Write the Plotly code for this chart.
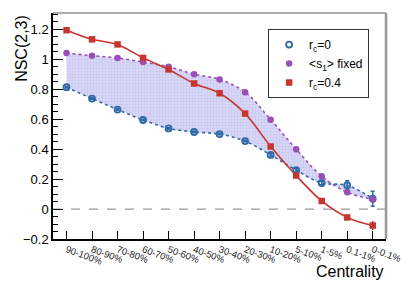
import plotly.graph_objects as go

categories = ["90-100%", "80-90%", "70-80%", "60-70%", "50-60%", "40-50%", "30-40%",
              "20-30%", "10-20%", "5-10%", "1-5%", "0.1-1%", "0-0.1%"]
rc0 = [0.814, 0.738, 0.665, 0.595, 0.539, 0.515, 0.501, 0.454, 0.362, 0.260, 0.174, 0.159, 0.069]
rc0_err = [0.005, 0.005, 0.005, 0.005, 0.005, 0.005, 0.005, 0.005, 0.008, 0.01, 0.012, 0.03, 0.05]
s1_fixed = [1.042, 1.025, 1.009, 0.982, 0.951, 0.901, 0.866, 0.781, 0.597, 0.400, 0.219, 0.112, 0.065]
rc04 = [1.195, 1.134, 1.100, 1.010, 0.933, 0.839, 0.774, 0.638, 0.418, 0.224, 0.054, -0.056, -0.110]
rc04_err = [0.01, 0.01, 0.01, 0.01, 0.01, 0.01, 0.01, 0.01, 0.01, 0.01, 0.01, 0.015, 0.03]
y_ticks = [-0.2, 0, 0.2, 0.4, 0.6, 0.8, 1, 1.2]
y_ticktext = ["\u22120.2", "0", "0.2", "0.4", "0.6", "0.8", "1", "1.2"]

idx = list(range(len(categories)))
blue = "#2f6aa6"
purple = "#9a4fb6"
red = "#c8352e"
font = "Liberation Sans, Arial, sans-serif"

fig = go.Figure()
fig.add_trace(go.Scatter(x=idx, y=s1_fixed, mode="lines", line=dict(color=purple, width=1.6, dash="dot", shape="spline"),
                         showlegend=False, hoverinfo="skip"))
fig.add_trace(go.Scatter(x=idx, y=rc0, mode="lines", line=dict(color=blue, width=1.6, dash="dot", shape="spline"),
                         fill="tonexty", fillcolor="rgba(190,190,238,0.6)",
                         fillpattern=dict(shape="+", fgcolor="rgba(170,170,232,0.9)", bgcolor="rgba(212,212,246,0.9)", size=3, solidity=0.3),
                         showlegend=False, hoverinfo="skip"))
fig.add_trace(go.Scatter(x=idx, y=rc04, mode="lines", line=dict(color=red, width=1.6, shape="spline"),
                         showlegend=False, hoverinfo="skip"))
fig.add_trace(go.Scatter(x=idx, y=rc0, mode="markers", name="r<sub>c</sub>=0",
                         marker=dict(symbol="circle-open", size=6, color=blue, line=dict(width=1.8, color=blue)),
                         error_y=dict(type="data", array=rc0_err, color=blue, thickness=1.5, width=2)))
fig.add_trace(go.Scatter(x=idx, y=s1_fixed, mode="markers", name="&lt;s<sub>1</sub>&gt; fixed",
                         marker=dict(symbol="circle", size=6.5, color=purple)))
fig.add_trace(go.Scatter(x=idx, y=rc04, mode="markers", name="r<sub>c</sub>=0.4",
                         marker=dict(symbol="square", size=6.5, color=red),
                         error_y=dict(type="data", array=rc04_err, color=red, thickness=1.5, width=0)))

fig.add_shape(type="line", xref="paper", yref="y", x0=0, x1=1, y0=0, y1=0,
              line=dict(color="#999999", width=1.3, dash="dash"), layer="below")
fig.add_shape(type="line", xref="paper", yref="paper", x0=0, x1=1, y0=1, y1=1,
              line=dict(color="#555555", width=1))
fig.add_shape(type="line", xref="paper", yref="paper", x0=1, x1=1, y0=0, y1=1,
              line=dict(color="#999999", width=2.5))

fig.update_xaxes(range=[-0.53, 12.52], tickmode="array", tickvals=idx, ticktext=categories,
                 tickangle=20, ticks="inside", ticklen=8, tickwidth=1, tickcolor="black",
                 showline=True, linecolor="black", linewidth=1.5, showgrid=False, zeroline=False,
                 tickfont=dict(family=font, size=9.5, color="#222222"))
fig.update_yaxes(range=[-0.2, 1.31], tickmode="array", tickvals=y_ticks, ticktext=y_ticktext,
                 ticks="inside", ticklen=10, tickwidth=1, tickcolor="black",
                 minor=dict(dtick=0.05, ticks="inside", ticklen=5, tickcolor="black", tickwidth=1, tick0=0),
                 showline=True, linecolor="black", linewidth=1.5, showgrid=False, zeroline=False,
                 tickfont=dict(family=font, size=13, color="black"))

fig.add_annotation(text="NSC(2,3)", xref="paper", yref="paper", x=-0.095, y=1.0, xanchor="center", yanchor="top",
                   textangle=-90, showarrow=False, font=dict(family=font, size=16, color="black"))
fig.add_annotation(text="Centrality", xref="paper", yref="paper", x=1.0, y=-0.142, xanchor="right", yanchor="middle",
                   showarrow=False, font=dict(family=font, size=16, color="black"))

fig.update_layout(width=407, height=275, margin=dict(l=45, r=29, t=5, b=44),
                  paper_bgcolor="white", plot_bgcolor="white",
                  legend=dict(x=0.646, y=0.929, xanchor="left", yanchor="top", bgcolor="white", traceorder="normal",
                              bordercolor="#333333", borderwidth=1, font=dict(family=font, size=12, color="black"),
                              itemwidth=30, tracegroupgap=0))
fig.write_html("out.html")
